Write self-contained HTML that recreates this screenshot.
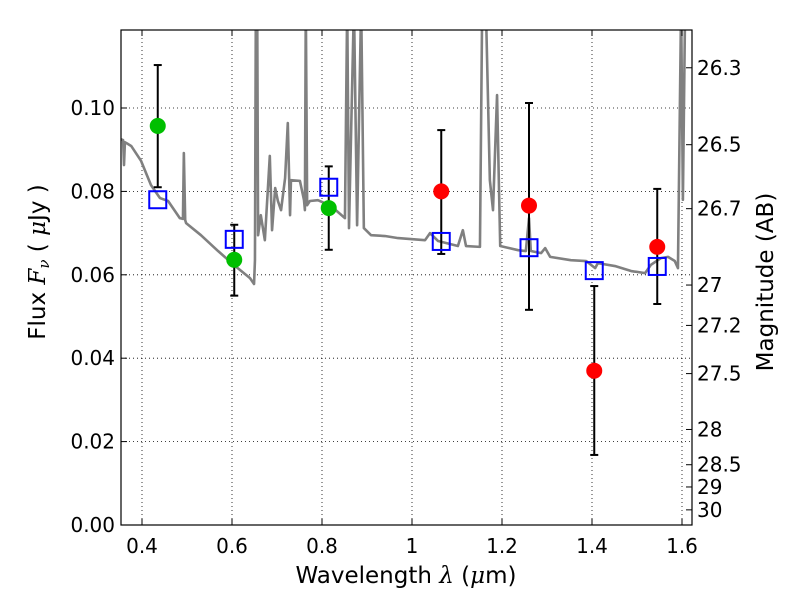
<!DOCTYPE html>
<html><head><meta charset="utf-8"><style>
body{margin:0;background:#fff;}
svg{display:block;font-family:"DejaVu Sans","Liberation Sans",sans-serif;}
</style></head><body>
<svg id="chart" width="800" height="600" viewBox="0 0 800 600" xmlns="http://www.w3.org/2000/svg">
<rect width="800" height="600" fill="#fff"/>
<g id="grid"></g>
<defs><clipPath id="clip"><rect x="121" y="30" width="571" height="495"/></clipPath></defs>
<g id="plot" clip-path="url(#clip)"></g>
<rect x="121" y="30" width="571" height="495" fill="none" stroke="#000" stroke-width="1.2"/>
<g id="axes"></g>
<text x="406" y="583" font-size="23" text-anchor="middle">Wavelength  <tspan font-family="DejaVu Serif" font-style="italic">λ</tspan> (<tspan font-family="DejaVu Serif" font-style="italic">μ</tspan>m)</text>
<text transform="translate(45,262) rotate(-90)" font-size="23" text-anchor="middle">Flux  <tspan font-family="DejaVu Serif" font-style="italic">F<tspan font-size="15" dy="4">ν</tspan></tspan><tspan dy="-4">  (  </tspan><tspan font-family="DejaVu Serif" font-style="italic">μ</tspan>Jy )</text>
<text transform="translate(773,282) rotate(-90)" font-size="23" text-anchor="middle">Magnitude (AB)</text>
</svg>
<script>
const NS="http://www.w3.org/2000/svg";
const xTicks=[0.4,0.6,0.8,1.0,1.2,1.4,1.6];
const xTickLabels=["0.4","0.6","0.8","1","1.2","1.4","1.6"];
const yTicks=[0,0.02,0.04,0.06,0.08,0.10];
const yTickLabels=["0.00","0.02","0.04","0.06","0.08","0.10"];
const magTicks=[26.3,26.5,26.7,27,27.2,27.5,28,28.5,29,30];
const magTickLabels=["26.3","26.5","26.7","27","27.2","27.5","28","28.5","29","30"];
const specWave=[0.347,0.358,0.360,0.362,0.376,0.398,0.420,0.440,0.458,0.484,0.491,0.493,0.496,0.498,0.531,0.569,0.607,0.640,0.649,0.651,0.653,0.656,0.658,0.664,0.673,0.684,0.689,0.696,0.702,0.709,0.718,0.724,0.729,0.731,0.751,0.760,0.762,0.764,0.767,0.773,0.791,0.820,0.851,0.856,0.860,0.871,0.878,0.887,0.893,0.909,0.940,0.969,1.029,1.040,1.058,1.102,1.113,1.120,1.151,1.156,1.160,1.164,1.173,1.180,1.189,1.196,1.236,1.253,1.260,1.264,1.287,1.296,1.307,1.353,1.387,1.407,1.413,1.451,1.487,1.518,1.531,1.553,1.569,1.584,1.591,1.598,1.602,1.607,1.611,1.618];
const specFlux=[0.0928,0.0923,0.0863,0.0918,0.0909,0.0873,0.0815,0.0784,0.0777,0.0736,0.0734,0.0892,0.0731,0.0724,0.0695,0.0657,0.0621,0.0592,0.0578,0.0635,0.125,0.125,0.0695,0.0743,0.0683,0.0885,0.0707,0.0808,0.0777,0.0755,0.0832,0.0964,0.0743,0.0827,0.0825,0.0779,0.0755,0.125,0.0767,0.0777,0.0779,0.0765,0.0736,0.125,0.0712,0.125,0.0719,0.125,0.0712,0.0695,0.0693,0.0688,0.0683,0.0700,0.0681,0.0669,0.0707,0.0669,0.0667,0.125,0.125,0.125,0.0827,0.0755,0.1031,0.0669,0.0659,0.0657,0.0736,0.0657,0.0652,0.0664,0.0643,0.0635,0.0633,0.0616,0.0628,0.0621,0.0609,0.0604,0.0624,0.0640,0.0643,0.0633,0.0616,0.125,0.078,0.125,0.125,0.125];
const obsWave=[0.435,0.605,0.815,1.065,1.26,1.405,1.545];
const obsFlux=[0.0957,0.0636,0.076,0.080,0.0766,0.037,0.0667];
const obsLow=[0.081,0.055,0.066,0.065,0.0516,0.0168,0.053];
const obsHigh=[0.1103,0.072,0.086,0.0947,0.1012,0.0573,0.0806];
const obsColor=["#00bf00","#00bf00","#00bf00","#ff0000","#ff0000","#ff0000","#ff0000"];
const modelFlux=[0.078,0.0685,0.081,0.068,0.0665,0.061,0.062];

const X=v=>142+(v-0.4)*450;
const Y=v=>525-v*4170;
const M=m=>Y(Math.pow(10,(23.9-m)/2.5));
function mk(tag,attrs,parent){const e=document.createElementNS(NS,tag);for(const k in attrs)e.setAttribute(k,attrs[k]);parent.appendChild(e);return e;}
const grid=document.getElementById('grid'),plot=document.getElementById('plot'),axes=document.getElementById('axes');
xTicks.forEach((t,i)=>{
  const g=mk('line',{x1:X(t),x2:X(t),y1:30,y2:525,stroke:'#000','stroke-width':0.8,'stroke-dasharray':'1,3'},grid);
  
  
  mk('line',{x1:X(t),x2:X(t),y1:525,y2:519,stroke:'#000'},axes);
  mk('line',{x1:X(t),x2:X(t),y1:30,y2:36,stroke:'#000'},axes);
  const l=mk('text',{x:X(t),y:553,'font-size':20,'text-anchor':'middle'},axes);l.textContent=xTickLabels[i];
  
  
});
yTicks.forEach((t,i)=>{
  const g=mk('line',{x1:121,x2:692,y1:Y(t),y2:Y(t),stroke:'#000','stroke-width':0.8,'stroke-dasharray':'1,3'},grid);
  
  
  mk('line',{x1:121,x2:127,y1:Y(t),y2:Y(t),stroke:'#000'},axes);
  const l=mk('text',{x:115,y:Y(t)+7,'font-size':20,'text-anchor':'end'},axes);l.textContent=yTickLabels[i];
  
  
});
magTicks.forEach((m,i)=>{
  mk('line',{x1:686,x2:692,y1:M(m),y2:M(m),stroke:'#000'},axes);
  const l=mk('text',{x:697,y:M(m)+7,'font-size':20},axes);l.textContent=magTickLabels[i];
  
  
});
const spec=mk('polyline',{points:specWave.map((w,i)=>X(w)+','+Y(specFlux[i])).join(' '),fill:'none',stroke:'#808080','stroke-width':2.6,'stroke-linejoin':'round'},plot);


obsWave.forEach((w,i)=>{
  const x=X(w);
  const e=mk('g',{},plot);
  
  
  mk('line',{x1:x,x2:x,y1:Y(obsLow[i]),y2:Y(obsHigh[i]),stroke:'#000','stroke-width':2},e);
  mk('line',{x1:x-4,x2:x+4,y1:Y(obsLow[i]),y2:Y(obsLow[i]),stroke:'#000','stroke-width':2},e);
  mk('line',{x1:x-4,x2:x+4,y1:Y(obsHigh[i]),y2:Y(obsHigh[i]),stroke:'#000','stroke-width':2},e);
  const c=mk('circle',{cx:x,cy:Y(obsFlux[i]),r:8,fill:obsColor[i]},plot);
  
  
  const s=mk('rect',{x:x-8.5,y:Y(modelFlux[i])-8.5,width:17,height:17,fill:'none',stroke:'#0000ff','stroke-width':2},plot);
  
  
});
</script>
</body></html>
